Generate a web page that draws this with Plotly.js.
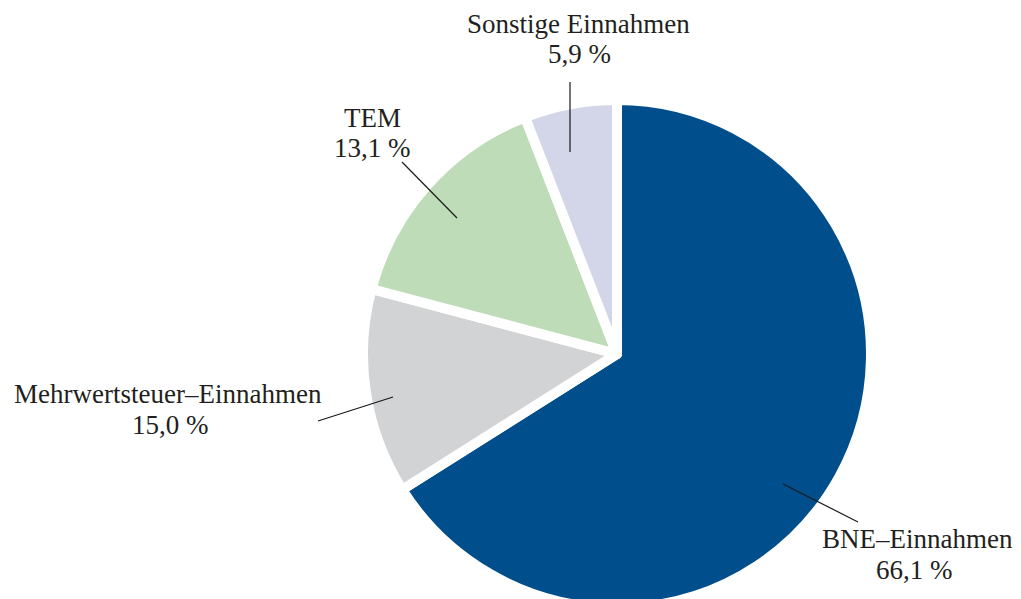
<!DOCTYPE html>
<html>
<head>
<meta charset="utf-8">
<script src="https://cdn.plot.ly/plotly-3.0.1.min.js"></script>
<style>
html,body{margin:0;padding:0;overflow:hidden;background:#fff;}
#chart{width:1021px;height:608px;}
</style>
</head>
<body>
<div id="chart"></div>
<script>
// Data
const categories = ["BNE–Einnahmen", "Mehrwertsteuer–Einnahmen", "TEM", "Sonstige Einnahmen"];
// slice sizes as drawn in the picture (percent)
const sliceValues = [66.1, 13.1, 15.0, 5.9];
// percentage labels as printed in the picture
const shareLabels = ["66,1 %", "15,0 %", "13,1 %", "5,9 %"];
const colors = ["#004f8c", "#d2d3d5", "#bfdcb9", "#d2d6e8"];

// Layout (pixel positions of labels and leader lines)
const W = 1021, H = 608;
const namePos = [[917, 539], [168, 394], [372, 118], [578, 24]];
const pctPos  = [[914, 570], [170, 425], [372, 148], [579, 54]];
const leaderLines = [
  [[783, 484], [858, 522]],
  [[393, 397], [318, 421]],
  [[457, 218], [402, 162]],
  [[570, 152], [570, 82]]
];
const px = x => x / W;
const py = y => 1 - y / H;

const FONT = "Liberation Serif, Times New Roman, serif";
const textFont = {family: FONT, size: 27, color: "#231f20"};

const annotations = [];
categories.forEach((c, i) => {
  annotations.push({
    xref: "paper", yref: "paper",
    x: px(namePos[i][0]), y: py(namePos[i][1]),
    xanchor: "center", yanchor: "middle",
    text: c, showarrow: false, font: textFont
  });
  annotations.push({
    xref: "paper", yref: "paper",
    x: px(pctPos[i][0]), y: py(pctPos[i][1]),
    xanchor: "center", yanchor: "middle",
    text: shareLabels[i], showarrow: false, font: textFont
  });
});

const shapes = leaderLines.map(l => ({
  type: "line", xref: "paper", yref: "paper",
  x0: px(l[0][0]), y0: py(l[0][1]), x1: px(l[1][0]), y1: py(l[1][1]),
  line: {color: "#1a1a1a", width: 1.2}
}));

const trace = {
  type: "pie",
  labels: categories,
  values: sliceValues,
  sort: false,
  direction: "clockwise",
  rotation: 0,
  textinfo: "none",
  hoverinfo: "skip",
  marker: {colors: colors, line: {color: "#ffffff", width: 10}},
  domain: {x: [363 / W, 871 / W], y: [0, 508 / H]},
  showlegend: false
};

Plotly.newPlot("chart", [trace], {
  width: W, height: H,
  margin: {l: 0, r: 0, t: 0, b: 0},
  paper_bgcolor: "#ffffff",
  plot_bgcolor: "#ffffff",
  annotations: annotations,
  shapes: shapes,
  showlegend: false
}, {displayModeBar: false, staticPlot: true});
</script>
</body>
</html>
